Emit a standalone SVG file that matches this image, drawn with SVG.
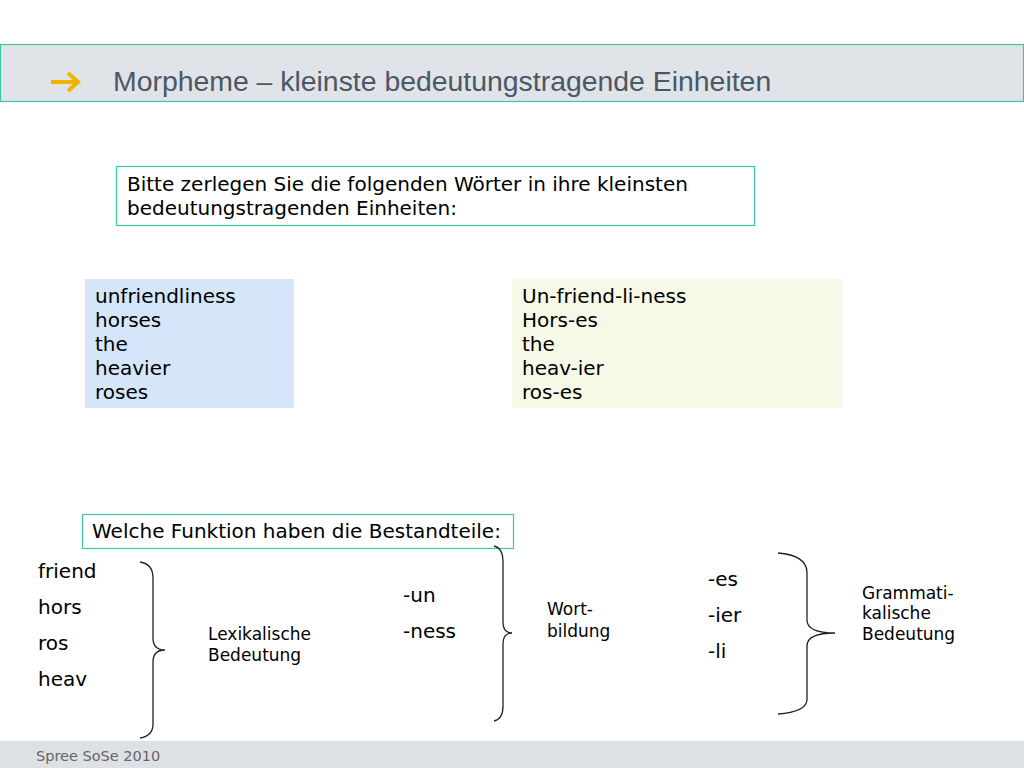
<svg xmlns="http://www.w3.org/2000/svg" width="1024" height="768" viewBox="0 0 1024 768">
<style>
.v{font-family:"DejaVu Sans","Verdana",sans-serif;fill:#000}
.t20{font-size:20px}
.t17{font-size:17px}
.frame{fill:#fff;stroke:#3cc8a0;stroke-width:1.2}
.brace{fill:none;stroke:#222;stroke-width:1.3}
</style>
<rect x="0" y="0" width="1024" height="768" fill="#fff"/>
<g id="header">
<rect x="0.5" y="44.5" width="1023" height="57" fill="#e0e3e7" stroke="#3cc8a0" stroke-width="1.2"/>
<g id="arrow" fill="none" stroke="#f0b400" stroke-width="4" stroke-linecap="butt" stroke-linejoin="miter">
<line x1="51" y1="82" x2="77" y2="82"/>
<polyline points="68,73 78,82 68,91"/>
</g>
<text x="113" y="91" font-family="'Liberation Sans',Arial,sans-serif" font-size="28.4" fill="#4a5866">Morpheme – kleinste bedeutungstragende Einheiten</text>
</g>
<g id="task">
<rect class="frame" x="116.5" y="166.5" width="638" height="59"/>
<text class="v t20" x="127" y="191">Bitte zerlegen Sie die folgenden Wörter in ihre kleinsten</text>
<text class="v t20" x="127" y="215">bedeutungstragenden Einheiten:</text>
</g>
<g id="words">
<rect x="85" y="279" width="209" height="129" fill="#d6e6fa"/>
<text class="v t20" x="95" y="303">unfriendliness</text>
<text class="v t20" x="95" y="327">horses</text>
<text class="v t20" x="95" y="351">the</text>
<text class="v t20" x="95" y="375">heavier</text>
<text class="v t20" x="95" y="399">roses</text>
</g>
<g id="segmented">
<rect x="512" y="279" width="330" height="129" fill="#f5f9e6"/>
<text class="v t20" x="522" y="303">Un-friend-li-ness</text>
<text class="v t20" x="522" y="327">Hors-es</text>
<text class="v t20" x="522" y="351">the</text>
<text class="v t20" x="522" y="375">heav-ier</text>
<text class="v t20" x="522" y="399">ros-es</text>
</g>
<g id="question">
<rect class="frame" x="82.5" y="514.5" width="431" height="34"/>
<text class="v t20" x="92" y="538">Welche Funktion haben die Bestandteile:</text>
</g>
<g id="lexical">
<text class="v t20" x="38" y="578">friend</text>
<text class="v t20" x="38" y="614">hors</text>
<text class="v t20" x="38" y="650">ros</text>
<text class="v t20" x="38" y="686">heav</text>
<text class="v t17" x="208" y="640">Lexikalische</text>
<text class="v t17" x="208" y="661">Bedeutung</text>
</g>
<g id="derivation">
<text class="v t20" x="403" y="602">-un</text>
<text class="v t20" x="403" y="638">-ness</text>
<text class="v t17" x="547" y="615">Wort-</text>
<text class="v t17" x="547" y="637">bildung</text>
</g>
<g id="grammatical">
<text class="v t20" x="708" y="586">-es</text>
<text class="v t20" x="708" y="622">-ier</text>
<text class="v t20" x="708" y="658">-li</text>
<text class="v t17" x="862" y="599">Grammati-</text>
<text class="v t17" x="862" y="619">kalische</text>
<text class="v t17" x="862" y="640">Bedeutung</text>
</g>
<g id="connectors">
<path class="brace" d="M140,562 Q153,564 153,578 L153,638 Q153,650 165,650 Q153,650 153,662 L153,724 Q153,736 140,738"/>
<path class="brace" d="M494,546 Q503,548 503,562 L503,622 Q503,633 512,633 Q503,633 503,644 L503,706 Q503,719 494,721"/>
<path class="brace" d="M778,553 Q806,555 807,572 L807,620 Q807,633 835,633 Q807,633 807,646 L807,700 Q806,712 778,714"/>
</g>
<g id="footer">
<rect x="0" y="741" width="1024" height="27" fill="#dde1e5"/>
<text x="36" y="761" font-family="'DejaVu Sans',Verdana,sans-serif" font-size="14.5" fill="#666">Spree SoSe 2010</text>
</g>
</svg>
